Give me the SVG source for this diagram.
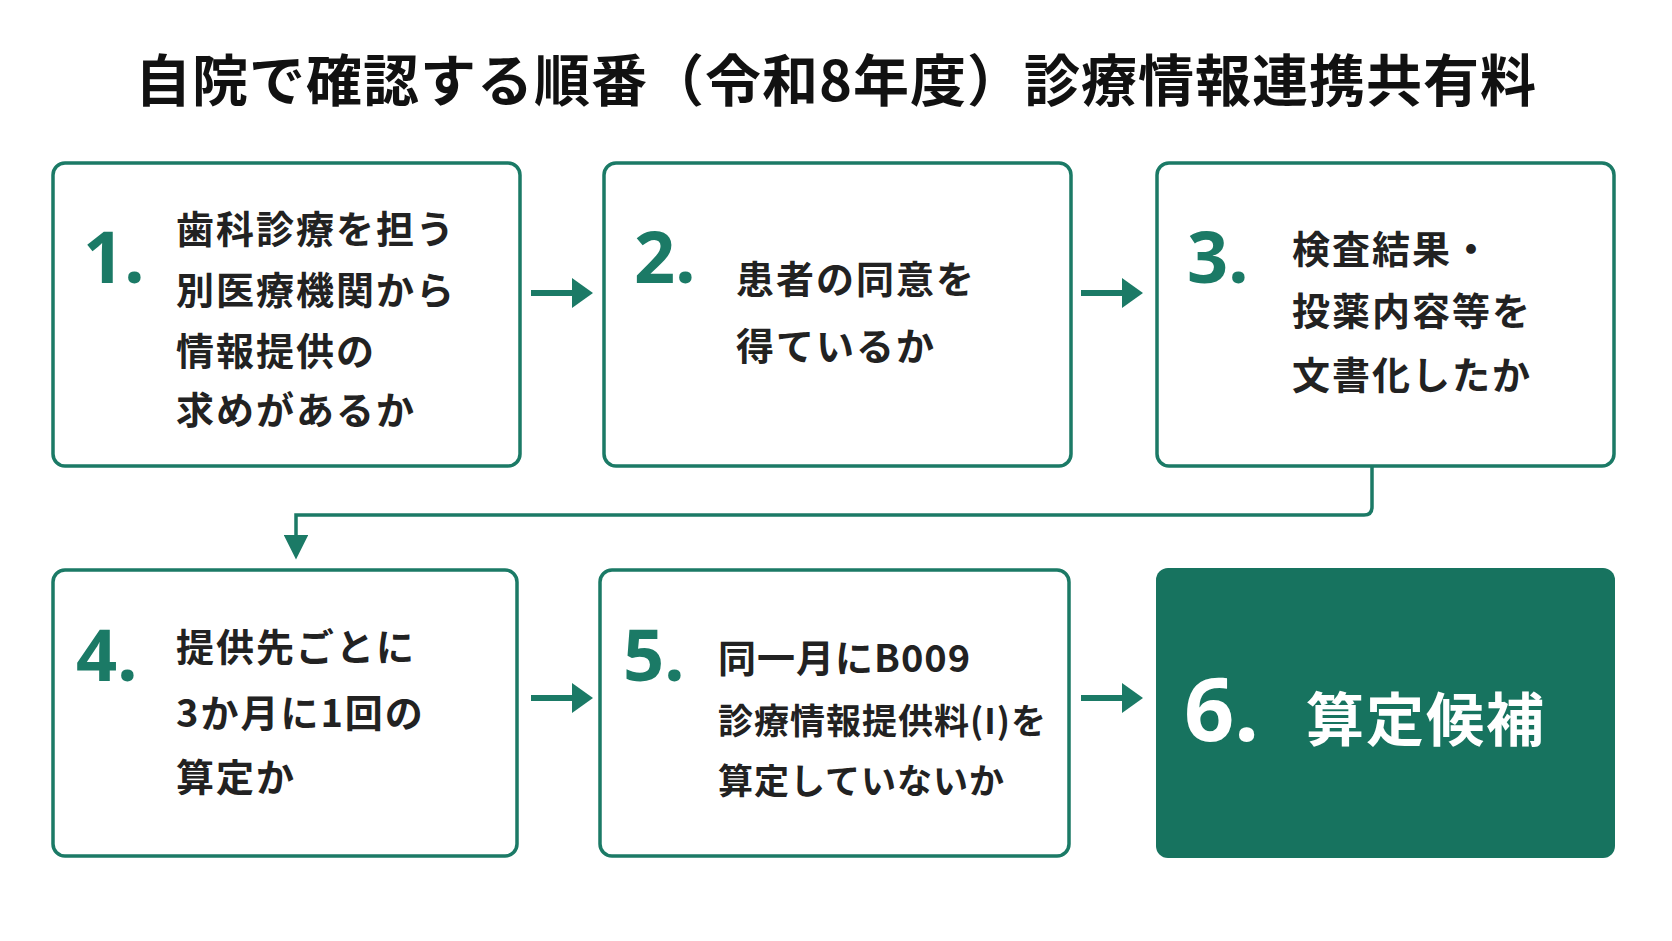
<svg xmlns="http://www.w3.org/2000/svg" width="1672" height="941" viewBox="0 0 1672 941">
<style>
.box{fill:#fff;stroke:#1b7a66;stroke-width:3.5}
.t{font-family:"Noto Sans CJK JP","Noto Sans",sans-serif;font-weight:700;fill:#222;font-size:38px;letter-spacing:2px}
.n{font-family:"Noto Sans","Noto Sans CJK JP",sans-serif;font-weight:700;fill:#1b7a66;font-size:72px}
.c{stroke:#1b7a66;stroke-width:6;fill:none}
</style>
<defs><marker id="ah" markerWidth="3.5" markerHeight="5" refX="1" refY="2.5" orient="auto"><path d="M0,0L3.5,2.5L0,5Z" fill="#1b7a66"/></marker>
<marker id="ah2" markerWidth="7" markerHeight="7" refX="2" refY="3.5" orient="auto"><path d="M0,0L7,3.5L0,7Z" fill="#1b7a66"/></marker></defs>
<rect width="1672" height="941" fill="#fff"/>
<text x="836" y="101" text-anchor="middle" class="t" style="font-size:56px;fill:#111;letter-spacing:1px">自院で確認する順番（令和8年度）診療情報連携共有料</text>
<g id="n1"><rect class="box" x="53" y="163" width="467" height="303" rx="12"/><text class="n" x="83" y="283">1.</text><text class="t" x="176" y="243">歯科診療を担う</text><text class="t" x="176" y="304">別医療機関から</text><text class="t" x="176" y="365">情報提供の</text><text class="t" x="176" y="424">求めがあるか</text></g>
<g id="n2"><rect class="box" x="604" y="163" width="467" height="303" rx="12"/><text class="n" x="634" y="283">2.</text><text class="t" x="736" y="293">患者の同意を</text><text class="t" x="736" y="360">得ているか</text></g>
<g id="n3"><rect class="box" x="1157" y="163" width="457" height="303" rx="12"/><text class="n" x="1187" y="283">3.</text><text class="t" x="1292" y="263">検査結果・</text><text class="t" x="1292" y="325">投薬内容等を</text><text class="t" x="1292" y="389">文書化したか</text></g>
<g id="n4"><rect class="box" x="53" y="570" width="464" height="286" rx="12"/><text class="n" x="76" y="681">4.</text><text class="t" x="176" y="661">提供先ごとに</text><text class="t" x="176" y="727">3か月に1回の</text><text class="t" x="176" y="791">算定か</text></g>
<g id="n5"><rect class="box" x="600" y="570" width="469" height="286" rx="12"/><text class="n" x="623" y="681">5.</text><text class="t" x="718" y="672" style="letter-spacing:1px">同一月にB009</text><text class="t" x="718" y="734" style="font-size:35px;letter-spacing:1px">診療情報提供料(I)を</text><text class="t" x="718" y="794" style="font-size:35px;letter-spacing:1px">算定していないか</text></g>
<g id="n6"><rect x="1156" y="568" width="459" height="290" rx="12" fill="#17735f"/><text class="n" x="1184" y="741" style="font-size:88px;fill:#fff">6.</text><text class="t" x="1306" y="741" style="font-size:58px;fill:#fff">算定候補</text></g>
<g id="connectors">
<line class="c" x1="531" y1="293" x2="578" y2="293" marker-end="url(#ah)"/>
<line class="c" x1="1081" y1="293" x2="1128" y2="293" marker-end="url(#ah)"/>
<line class="c" x1="531" y1="698" x2="578" y2="698" marker-end="url(#ah)"/>
<line class="c" x1="1081" y1="698" x2="1128" y2="698" marker-end="url(#ah)"/>
<path d="M1372,466V507Q1372,515 1364,515H296V542" style="stroke:#1b7a66;stroke-width:3.5;fill:none" marker-end="url(#ah2)"/>
</g>
</svg>
